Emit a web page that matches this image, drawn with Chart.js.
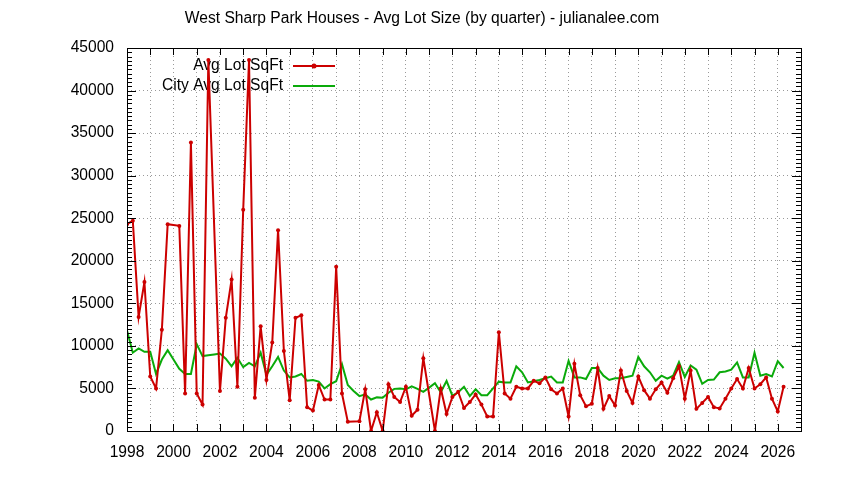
<!DOCTYPE html>
<html>
<head>
<meta charset="utf-8">
<script src="https://cdn.jsdelivr.net/npm/chart.js@4"></script>
<style>html,body{margin:0;padding:0;background:#fff;}</style>
</head>
<body>
<div style="width:844px;height:480px;"><canvas id="c" width="844" height="480"></canvas></div>
<script>
const chartTitle = "West Sharp Park Houses - Avg Lot Size (by quarter) - julianalee.com";
const seriesNames = ["Avg Lot SqFt", "City Avg Lot SqFt"];
const firstYear = 1998;
const lastYear = 2026;

// quarter categories 1998 Q1 .. 2026 Q2
const quarters = [];
for (let y = firstYear; y <= lastYear; y++) {
  for (let q = 1; q <= 4; q++) {
    if (y === lastYear && q > 2) break;
    quarters.push(y + " Q" + q);
  }
}

const avgLotSqFt = [
  24300, 24700, 13400, 17500, 6400, 5000, 11900, 24300,
  null, 24100, 4400, 33900, 4400, 3100, 43600, null,
  4700, 13300, 17800, 5200, 26000, 43600, 3900, 12300,
  6000, 10400, 23600, 9400, 3600, 13300, 13600, 2800,
  2400, 5400, 3700, 3700, 19300, 4400, 1100, null,
  1150, 4900, 0, 2200, 0, 5500, 4000, 3400,
  5200, 1800, 2500, 8550, null, 0, 5000, 2000,
  4000, 4600, 2700, 3400, 4300, 3100, 1700, 1700,
  11600, 4400, 3800, 5200, 5000, 5000, 5900, 5600,
  6300, 4900, 4400, 5000, 1700, 7900, 4200, 2900,
  3200, 7400, 2600, 4100, 3000, 7100, 4700, 3300,
  6400, 4800, 3800, 4900, 5700, 4500, 6200, 7600,
  3800, 7100, 2600, 3300, 4000, 2800, 2650, 3800,
  5000, 6100, 5000, 7400, 5000, 5500, 6300, 3800,
  2300, 5200
];

const cityAvgLotSqFt = [
  11800, 9200, 9700, 9300, 9300, 6700, 8400, 9500,
  8400, 7300, 6700, 6700, 10200, 8800, 8900, 9000,
  9100, 8500, 7600, 8600, 7500, 8000, 7600, 9200,
  6600, 7600, 8700, 7100, 6300, 6400, 6700, 5900,
  6000, 5800, 5000, 5500, 5850, 7850, 5400, 4700,
  4100, 4300, 3700, 3950, 3900, 4500, 4950, 5000,
  4900, 5250, 4950, 4600, 5100, 5620, 4550, 5880,
  4150, 4550, 5200, 4100, 4900, 4200, 4200, 5000,
  5800, 5700, 5700, 7600, 6900, 5700, 5850, 6000,
  6200, 6400, 5700, 5700, 8250, 6300, 6300, 6100,
  7400, 7400, 6500, 6000, 6200, 6200, 6350, 6500,
  8700, 7600, 6900, 5900, 6500, 6150, 6500, 8100,
  6350, 7700, 7200, 5550, 6000, 6050, 6900, 7000,
  7200, 8050, 6300, 6300, 9200, 6500, 6700, 6400,
  8200, 7400
];

const xTickLabels = ["1998","2000","2002","2004","2006","2008","2010","2012","2014","2016","2018","2020","2022","2024","2026"];
const yTickLabels = ["0","5000","10000","15000","20000","25000","30000","35000","40000","45000"];

const RED = "#cc0000";
const GREEN = "#0aaa0a";
const FONT = "'Liberation Sans', Arial, sans-serif";
const FONT_SIZE = 15.6;

function quarterToX(label) {
  const [y, q] = label.split(" Q");
  return Number(y) + (Number(q) - 1) / 4;
}
function toPoints(values) {
  return quarters.map((q, i) => ({ x: quarterToX(q), y: values[i] }));
}

const framePlugin = {
  id: "gnuplotFrame",
  beforeDatasetsDraw(chart) {
    const ctx = chart.ctx;
    const a = chart.chartArea;
    const items = chart.data.datasets;
    ctx.save();
    ctx.font = FONT_SIZE + "px " + FONT;
    ctx.textAlign = "right";
    ctx.textBaseline = "middle";
    items.forEach((ds, k) => {
      const yy = a.top + 18 + k * 20;
      const xr = a.left + 156;
      ctx.fillStyle = "#000";
      ctx.fillText(ds.label, xr, yy);
      ctx.strokeStyle = ds.borderColor;
      ctx.lineWidth = ds.borderWidth;
      ctx.beginPath();
      ctx.moveTo(xr + 10, yy);
      ctx.lineTo(xr + 52, yy);
      ctx.stroke();
      if (ds.pointRadius > 0) {
        ctx.fillStyle = ds.borderColor;
        ctx.beginPath();
        ctx.arc(xr + 31, yy, ds.pointRadius + 0.5, 0, Math.PI * 2);
        ctx.fill();
      }
    });
    ctx.restore();
  },
  afterDraw(chart) {
    const ctx = chart.ctx;
    const a = chart.chartArea;
    const xs = chart.scales.x, ys = chart.scales.y;
    ctx.save();
    ctx.strokeStyle = "#000";
    ctx.lineWidth = 1;
    ctx.beginPath();
    for (let yr = firstYear; yr <= 2027; yr++) {
      const px = Math.round(xs.getPixelForValue(yr)) + 0.5;
      ctx.moveTo(px, a.bottom); ctx.lineTo(px, a.bottom - 7);
      ctx.moveTo(px, a.top); ctx.lineTo(px, a.top + 7);
    }
    for (let v = 0; v <= 45000; v += 500) {
      const py = Math.round(ys.getPixelForValue(v)) + 0.5;
      const len = (v % 5000 === 0) ? 9 : 5;
      ctx.moveTo(a.left, py); ctx.lineTo(a.left + len, py);
      ctx.moveTo(a.right, py); ctx.lineTo(a.right - len, py);
    }
    ctx.stroke();
    ctx.strokeRect(Math.round(a.left) + 0.5, Math.round(a.top) + 0.5,
      Math.round(a.right - a.left), Math.round(a.bottom - a.top));
    ctx.fillStyle = "#000";
    ctx.font = FONT_SIZE + "px " + FONT;
    ctx.textAlign = "center";
    ctx.textBaseline = "middle";
    ctx.fillText(chartTitle, 422, 19);
    ctx.restore();
  }
};

new Chart(document.getElementById("c"), {
  type: "line",
  data: {
    datasets: [
      {
        label: seriesNames[0],
        data: toPoints(avgLotSqFt),
        borderColor: RED,
        backgroundColor: RED,
        borderWidth: 2,
        pointRadius: 2,
        pointBackgroundColor: RED,
        pointBorderWidth: 0,
        spanGaps: true,
        tension: 0,
        order: 1
      },
      {
        label: seriesNames[1],
        data: toPoints(cityAvgLotSqFt),
        borderColor: GREEN,
        backgroundColor: GREEN,
        borderWidth: 2,
        pointRadius: 0,
        tension: 0,
        order: 2
      }
    ]
  },
  options: {
    responsive: false,
    devicePixelRatio: 1,
    animation: false,
    events: [],
    layout: { padding: { top: 48, right: 43, bottom: 0, left: 0 } },
    plugins: { legend: { display: false }, title: { display: false }, tooltip: { enabled: false } },
    scales: {
      x: {
        type: "linear",
        min: 1998,
        max: 2027,
        afterFit(s) { s.height = 49; },
        afterBuildTicks(s) {
          const t = [];
          for (let yr = 1998; yr <= 2027; yr++) t.push({ value: yr });
          s.ticks = t;
        },
        ticks: {
          autoSkip: false,
          maxRotation: 0,
          padding: 12,
          color: "#000",
          font: { family: FONT, size: FONT_SIZE },
          callback(v) { const s = String(v); return xTickLabels.includes(s) ? s : ""; }
        },
        grid: { color: "#9a9a9a", lineWidth: 1, drawTicks: false },
        border: { display: false, dash: [1, 3] }
      },
      y: {
        min: 0,
        max: 45000,
        afterFit(s) { s.width = 127; },
        ticks: {
          stepSize: 5000,
          padding: 13,
          color: "#000",
          font: { family: FONT, size: FONT_SIZE },
          callback(v) { const s = String(v); return yTickLabels.includes(s) ? s : ""; }
        },
        grid: { color: "#9a9a9a", lineWidth: 1, drawTicks: false },
        border: { display: false, dash: [1, 3] }
      }
    }
  },
  plugins: [framePlugin]
});
</script>
</body>
</html>
